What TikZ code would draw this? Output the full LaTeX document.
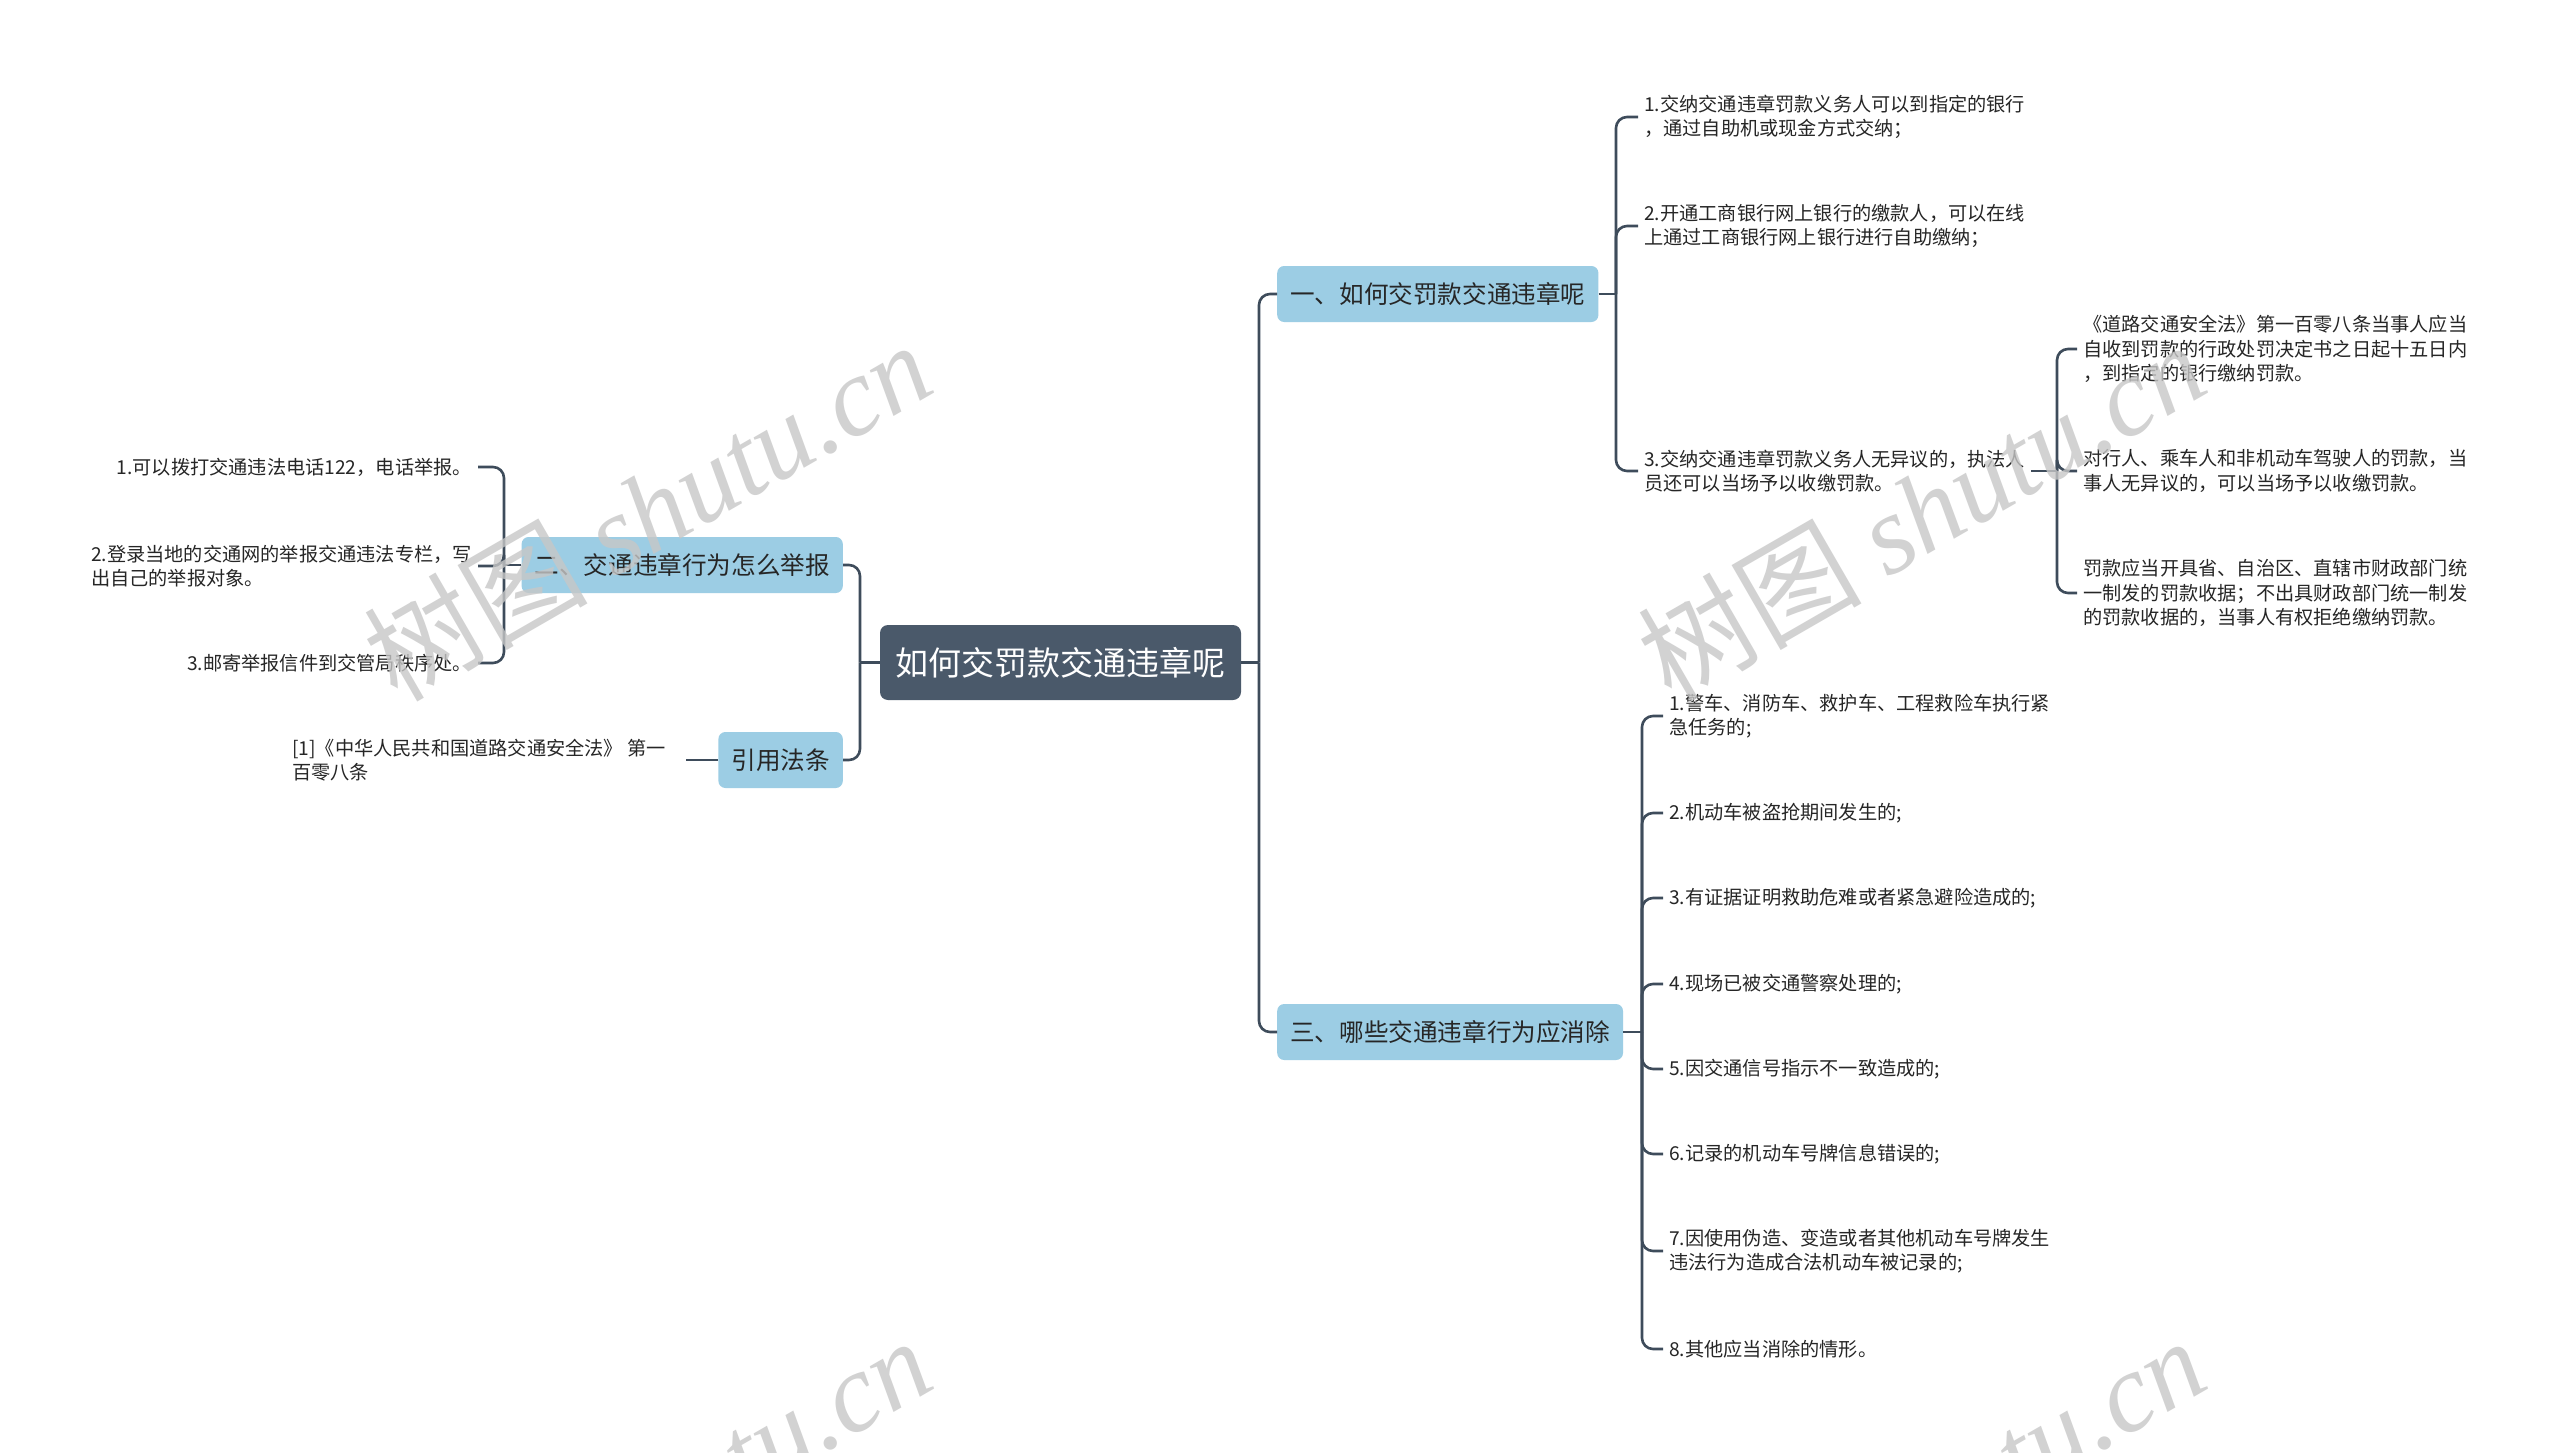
\documentclass[tikz,border=0pt]{standalone}
\usepackage{fontspec}
\setmainfont{Noto Sans CJK SC}
\newfontfamily\wmserif{Liberation Serif}
\usetikzlibrary{calc}
\definecolor{slate}{RGB}{74,89,106}
\definecolor{sky}{RGB}{156,205,228}
\definecolor{wire}{RGB}{62,76,91}
\definecolor{ink}{RGB}{38,38,38}
\tikzset{
  rootbox/.style={fill=slate,text=white,rounded corners=8pt,minimum width=361pt,
    minimum height=75pt,inner xsep=15pt,font=\fontsize{33}{40}\selectfont},
  topic/.style={fill=sky,text=ink,rounded corners=7pt,minimum height=56pt,
    inner xsep=13pt,font=\fontsize{24.6}{30}\selectfont},
  leaf/.style={text=ink,align=left,inner xsep=6pt,inner ysep=2pt,
    font=\fontsize{19.2}{24.5}\selectfont},
  branch/.style={draw=wire,line width=2.6pt,rounded corners=11pt},
  wmark/.style={text=black!22,opacity=0.8,rotate=30,inner sep=0pt,
    font=\fontsize{112}{112}\selectfont},
}

\begin{document}
\begin{tikzpicture}[x=1pt,y=-1pt]
  \fill[white] (0,0) rectangle (2560,1453);
  \useasboundingbox (0,0) rectangle (2560,1453);

  % centre and main topics
  \node[rootbox] (main) at (1060.5,662.5) {如何交罚款交通违章呢};
  \node[topic,anchor=west] (t1) at (1277,294) {一、如何交罚款交通违章呢};
  \node[topic,anchor=west] (t3) at (1277,1032) {三、哪些交通违章行为应消除};
  \node[topic,anchor=east] (t2) at (843,565) {二、交通违章行为怎么举报};
  \node[topic,anchor=east] (t4) at (843,760) {引用法条};

  \coordinate (rj) at (1259,662.5);
  \coordinate (lj) at (860,662.5);
  \draw[branch] (main.east) -- (rj);
  \draw[branch] (main.west) -- (lj);
  \foreach \t in {t1,t3} \draw[branch] (rj) |- (\t.west);
  \foreach \t in {t2,t4} \draw[branch] (lj) |- (\t.east);

  % 一
  \coordinate (t1j) at (1616,294);
  \draw[branch] (t1.east) -- (t1j);
  \foreach \n/\y/\t in {
    1/117/{1.交纳交通违章罚款义务人可以到指定的银行\\，通过自助机或现金方式交纳；},
    2/226/{2.开通工商银行网上银行的缴款人，可以在线\\上通过工商银行网上银行进行自助缴纳；},
    3/471/{3.交纳交通违章罚款义务人无异议的，执法人\\员还可以当场予以收缴罚款。}}{
    \node[leaf,anchor=west] (a\n) at (1638,\y) {\t};
    \draw[branch] (t1j) |- (a\n.west);
  }
  \coordinate (a3j) at (2057,471);
  \draw[branch] (a3.east) -- (a3j);
  \foreach \n/\y/\t in {
    1/349/{《道路交通安全法》第一百零八条当事人应当\\自收到罚款的行政处罚决定书之日起十五日内\\，到指定的银行缴纳罚款。},
    2/471/{对行人、乘车人和非机动车驾驶人的罚款，当\\事人无异议的，可以当场予以收缴罚款。},
    3/593/{罚款应当开具省、自治区、直辖市财政部门统\\一制发的罚款收据；不出具财政部门统一制发\\的罚款收据的，当事人有权拒绝缴纳罚款。}}{
    \node[leaf,anchor=west] (b\n) at (2077,\y) {\t};
    \draw[branch] (a3j) |- (b\n.west);
  }

  % 三
  \coordinate (t3j) at (1642,1032);
  \draw[branch] (t3.east) -- (t3j);
  \foreach \n/\y/\t in {
    1/716/{1.警车、消防车、救护车、工程救险车执行紧\\急任务的;},
    2/813/{2.机动车被盗抢期间发生的;},
    3/898/{3.有证据证明救助危难或者紧急避险造成的;},
    4/984/{4.现场已被交通警察处理的;},
    5/1069/{5.因交通信号指示不一致造成的;},
    6/1154/{6.记录的机动车号牌信息错误的;},
    7/1251/{7.因使用伪造、变造或者其他机动车号牌发生\\违法行为造成合法机动车被记录的;},
    8/1349/{8.其他应当消除的情形。}}{
    \node[leaf,anchor=west] (c\n) at (1663,\y) {\t};
    \draw[branch] (t3j) |- (c\n.west);
  }

  % 二
  \coordinate (t2j) at (504,565);
  \draw[branch] (t2.west) -- (t2j);
  \foreach \n/\y/\t in {
    1/467/{1.可以拨打交通违法电话122，电话举报。},
    2/566/{2.登录当地的交通网的举报交通违法专栏，写\\出自己的举报对象。},
    3/663/{3.邮寄举报信件到交管局秩序处。}}{
    \node[leaf,anchor=east] (r\n) at (478,\y) {\t};
    \draw[branch] (t2j) |- (r\n.east);
  }

  % 引用法条
  \node[leaf,anchor=east] (cite) at (672,760) {[1]《中华人民共和国道路交通安全法》 第一\\百零八条};
  \draw[branch] (t4.west) -- ([xshift=14pt]cite.east);

  % watermark
  \foreach \n/\x/\y in {1/647/510,2/1921/510,3/647/1506,4/1921/1506}
    \node[wmark] (wm\n) at (\x,\y) {树图 {\wmserif\itshape shutu.cn}};
\end{tikzpicture}
\end{document}
